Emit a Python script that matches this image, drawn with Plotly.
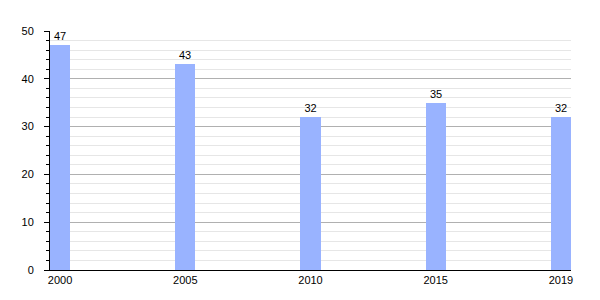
import plotly.graph_objects as go

years = ["2000", "2005", "2010", "2015", "2019"]
values = [47, 43, 32, 35, 32]

fig = go.Figure(go.Bar(
    x=years, y=values, width=0.16,
    marker=dict(color="#99b3ff", line=dict(width=0)),
    text=[str(v) for v in values], textposition="outside",
    textfont=dict(family="Liberation Sans, Arial", size=11, color="black"),
    cliponaxis=False,
))

fig.update_layout(
    width=600, height=300,
    margin=dict(l=50, r=29, t=31, b=30),
    paper_bgcolor="white", plot_bgcolor="white",
    showlegend=False,
    font=dict(family="Liberation Sans, Arial", size=11, color="black"),
    bargap=0,
)
fig.update_xaxes(
    type="category", range=[-0.08, 4.08],
    showline=True, linecolor="black", linewidth=1,
    ticks="", showgrid=False, tickfont=dict(size=11),
)
fig.update_yaxes(
    range=[0, 50], dtick=10,
    showline=True, linecolor="black", linewidth=1,
    ticks="outside", ticklen=5, tickcolor="black",
    gridcolor="#b0b0b0", gridwidth=1,
    zeroline=False, tickfont=dict(size=11),
    ticklabelstandoff=8,
    minor=dict(dtick=2, showgrid=True, gridcolor="#e6e6e6", ticks="outside", ticklen=3, tickcolor="black"),
)
fig.write_html("out.html")
